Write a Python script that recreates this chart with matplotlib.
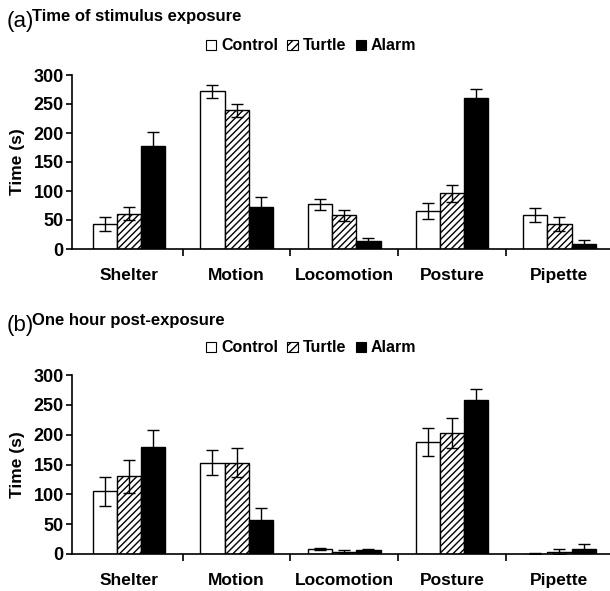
import matplotlib
matplotlib.use("Agg")
import matplotlib.pyplot as plt
import numpy as np
from matplotlib.patches import Patch
from matplotlib import font_manager

categories = ["Shelter", "Motion", "Locomotion", "Posture", "Pipette"]
series = ["Control", "Turtle", "Alarm"]

a_control = [43, 272, 77, 65, 59]
a_control_err = [12, 11, 9, 14, 12]
a_turtle = [61, 239, 58, 96, 43]
a_turtle_err = [11, 11, 9, 15, 12]
a_alarm = [177, 73, 14, 261, 9]
a_alarm_err = [24, 17, 5, 15, 6]

b_control = [105, 153, 8, 188, 0.5]
b_control_err = [24, 21, 2, 24, 1]
b_turtle = [130, 153, 4, 203, 4]
b_turtle_err = [27, 24, 2, 25, 4]
b_alarm = [179, 57, 6, 258, 9]
b_alarm_err = [28, 20, 3, 18, 7]

yticks = [0, 50, 100, 150, 200, 250, 300]

names = {f.name for f in font_manager.fontManager.ttflist}
fam = "Liberation Sans Narrow" if "Liberation Sans Narrow" in names else "Liberation Sans"
plt.rcParams['font.family'] = [fam, 'DejaVu Sans']
plt.rcParams['hatch.linewidth'] = 1.0

W, H = 610, 591
fig = plt.figure(figsize=(W / 100, H / 100), dpi=100)

def px_axes(left, top, right, bottom):
    return fig.add_axes([left / W, 1 - bottom / H, (right - left) / W, (bottom - top) / H])

def draw_panel(ax, vals, errs, letter, title, title_y, legend_y):
    x = np.arange(len(categories))
    w = 0.225
    styles = [dict(color="white", hatch=None), dict(color="white", hatch="/////"), dict(color="black", hatch=None)]
    for i, (v, e) in enumerate(zip(vals, errs)):
        ax.bar(x + (i - 1) * w, v, w, yerr=e, facecolor=styles[i]["color"], edgecolor="black",
               linewidth=1.0, hatch=styles[i]["hatch"], capsize=4,
               error_kw=dict(ecolor="black", elinewidth=1.0, capthick=1.0), zorder=2)
    ax.set_xlim(-0.53, 4.47)
    ax.set_ylim(0, 300)
    ax.set_yticks(yticks)
    ax.set_yticklabels([str(t) for t in yticks], fontsize=13, fontweight="bold")
    ax.set_xticks(x)
    ax.set_xticklabels(categories, fontsize=12.5, fontweight="bold")
    ax.set_xticks(np.arange(0.5, len(categories) - 0.5, 1), minor=True)
    ax.tick_params(axis="x", which="major", length=0, pad=14)
    ax.tick_params(axis="x", which="minor", length=5, width=1.2, direction="out")
    ax.tick_params(axis="y", length=4, width=1.2, direction="out", pad=2)
    for s in ["top", "right"]:
        ax.spines[s].set_visible(False)
    ax.spines["left"].set_linewidth(1.2)
    ax.spines["bottom"].set_linewidth(1.2)
    ax.set_ylabel("Time (s)", fontsize=12.5, fontweight="bold", labelpad=6)
    fig.text(7 / W, 1 - title_y / H, letter, fontsize=16, ha="left", va="baseline")
    fig.text(32 / W, 1 - (title_y - 6) / H, title, fontsize=12, fontweight="bold", ha="left", va="baseline")
    handles = [Patch(facecolor="white", edgecolor="black", linewidth=0.8),
               Patch(facecolor="white", edgecolor="black", hatch="////", linewidth=0.8),
               Patch(facecolor="black", edgecolor="black", linewidth=0.8)]
    fig.legend(handles, series, loc="center", bbox_to_anchor=(311 / W, 1 - legend_y / H), ncol=3,
               frameon=False, prop=dict(size=11.5, weight="bold"), handlelength=0.65, handleheight=0.65,
               handletextpad=0.3, columnspacing=0.6, borderaxespad=0)

ax_a = px_axes(72, 75, 610, 249)
draw_panel(ax_a, [a_control, a_turtle, a_alarm], [a_control_err, a_turtle_err, a_alarm_err],
           "(a)", "Time of stimulus exposure", 27, 46)
ax_b = px_axes(72, 375, 610, 554)
draw_panel(ax_b, [b_control, b_turtle, b_alarm], [b_control_err, b_turtle_err, b_alarm_err],
           "(b)", "One hour post-exposure", 331, 348)

fig.savefig("out.png", dpi=100)
